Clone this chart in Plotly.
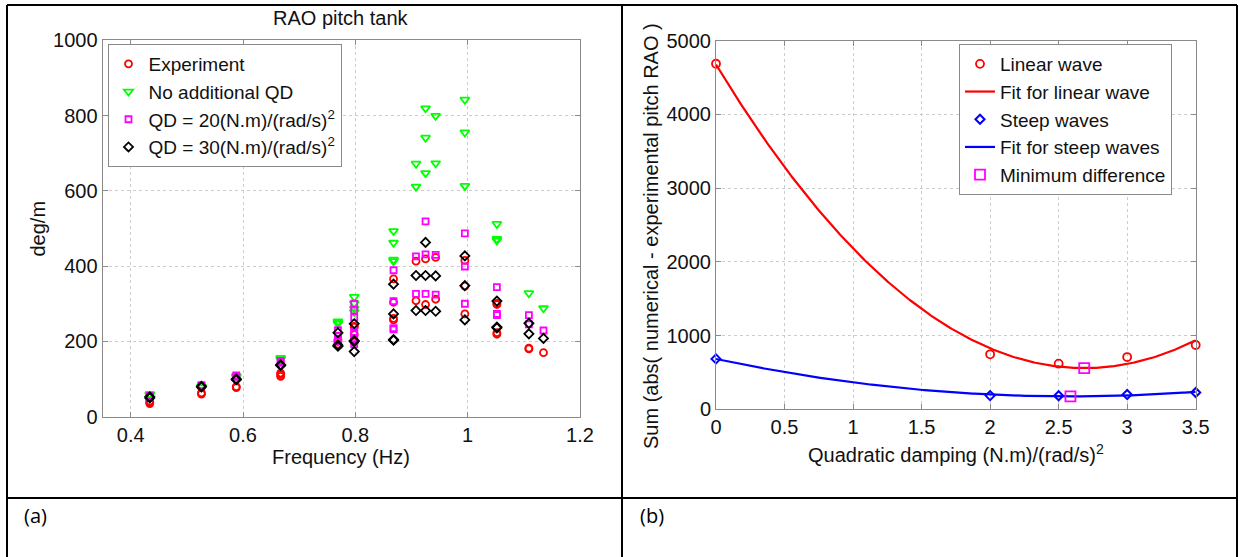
import numpy as np
import plotly.graph_objects as go

W, H = 1240, 557

# ---------------- (a) RAO pitch in the tank ----------------
freq_hz = [0.434, 0.526, 0.588, 0.667, 0.769, 0.798, 0.868,
           0.908, 0.925, 0.943, 0.995, 1.052, 1.109, 1.135]

rao_experiment = [
    [35, 38, 41], [60, 63], [77, 80], [107, 112, 116], [193, 200, 205],
    [198, 202, 218, 238, 240], [257, 261, 304, 366], [308, 413], [298, 419],
    [312, 423], [273, 347, 415], [219, 223, 298, 301], [180, 182], [170],
]
rao_no_qd = [
    [57, 60], [78, 80], [105, 108], [152, 156], [247, 250, 253],
    [278, 287, 301, 318], [413, 417, 462, 493], [611, 672], [647, 741, 819],
    [673, 799], [613, 755, 842], [468, 472, 512], [328], [288],
]
rao_qd20 = [
    [52, 56], [82, 84], [106, 110], [143, 148], [200, 207, 215, 230],
    [193, 205, 220, 225, 264, 282, 300], [232, 235, 307, 389], [326, 426],
    [326, 431, 519], [324, 430], [300, 399, 487], [270, 273, 344], [245, 270], [229],
]
rao_qd30 = [
    [50, 53], [79, 81], [98, 100], [136, 138], [187, 190, 223],
    [173, 200, 202, 247], [203, 205, 273, 352], [282, 375], [282, 375, 463],
    [280, 374], [257, 348, 427], [236, 238, 307], [220, 248], [208],
]

freq_ticks = [0.4, 0.6, 0.8, 1.0, 1.2]
freq_tick_text = ["0.4", "0.6", "0.8", "1", "1.2"]

# ---------------- (b) error sum vs quadratic damping ----------------
qd_values = [0, 2, 2.5, 3, 3.5]
err_linear = [4687, 746, 619, 709, 872]
err_steep = [684, 186, 184, 200, 228]

qd_ticks = [0, 0.5, 1, 1.5, 2, 2.5, 3, 3.5]
qd_tick_text = ["0", "0.5", "1", "1.5", "2", "2.5", "3", "3.5"]

FONT = "Liberation Sans, Arial, sans-serif"
TXT = "#111111"
FS = 20
LEG_FS = 19


def flatten(xs, groups):
    px, py = [], []
    for x, g in zip(xs, groups):
        for v in g:
            px.append(x)
            py.append(v)
    return px, py


def px_x(v):
    return v / W


def px_y(v):
    return 1 - v / H


fig = go.Figure()

series_a = [
    ("Experiment", rao_experiment, "circle-open", "#ff0000", 7),
    ("No additional QD", rao_no_qd, "triangle-down-open", "#00ff00", 8),
    ("QD = 20(N.m)/(rad/s)<sup>2</sup>", rao_qd20, "square-open", "#ff00ff", 6),
    ("QD = 30(N.m)/(rad/s)<sup>2</sup>", rao_qd30, "diamond-open", "#000000", 7),
]
for name, groups, sym, col, size in series_a:
    x, y = flatten(freq_hz, groups)
    fig.add_trace(go.Scatter(
        x=x, y=y, mode="markers", name=name, legend="legend",
        xaxis="x", yaxis="y", cliponaxis=False,
        marker=dict(symbol=sym, size=size, color=col, line=dict(width=1.8, color=col)),
    ))

# quadratic fits and their minima
x_fit = np.linspace(0, 3.5, 300)
c_lin = np.polyfit(qd_values, err_linear, 2)
c_stp = np.polyfit(qd_values, err_steep, 2)
xmin_lin = -c_lin[1] / (2 * c_lin[0])
xmin_stp = -c_stp[1] / (2 * c_stp[0])

fig.add_trace(go.Scatter(
    x=qd_values, y=err_linear, mode="markers", name="Linear wave", legend="legend2",
    xaxis="x2", yaxis="y2", cliponaxis=False,
    marker=dict(symbol="circle-open", size=8, color="#ff0000", line=dict(width=1.8, color="#ff0000")),
))
fig.add_trace(go.Scatter(
    x=x_fit, y=np.polyval(c_lin, x_fit), mode="lines", name="Fit for linear wave",
    legend="legend2", xaxis="x2", yaxis="y2", cliponaxis=False,
    line=dict(color="#ff0000", width=2.2),
))
fig.add_trace(go.Scatter(
    x=qd_values, y=err_steep, mode="markers", name="Steep waves", legend="legend2",
    xaxis="x2", yaxis="y2", cliponaxis=False,
    marker=dict(symbol="diamond-open", size=7, color="#0000ff", line=dict(width=2, color="#0000ff")),
))
fig.add_trace(go.Scatter(
    x=x_fit, y=np.polyval(c_stp, x_fit), mode="lines", name="Fit for steep waves",
    legend="legend2", xaxis="x2", yaxis="y2", cliponaxis=False,
    line=dict(color="#0000ff", width=2.2),
))
fig.add_trace(go.Scatter(
    x=[xmin_lin, xmin_stp],
    y=[np.polyval(c_lin, xmin_lin), np.polyval(c_stp, xmin_stp)],
    mode="markers", name="Minimum difference", legend="legend2",
    xaxis="x2", yaxis="y2", cliponaxis=False,
    marker=dict(symbol="square-open", size=10, color="#ff00ff", line=dict(width=1.8, color="#ff00ff")),
))

axis_common = dict(
    showgrid=True, gridcolor="#cccccc", griddash="dot", gridwidth=1,
    showline=True, linecolor="#8a8a8a", linewidth=1, mirror="ticks",
    ticks="inside", ticklen=5, tickcolor="#8a8a8a",
    zeroline=False, automargin=False,
    tickfont=dict(family=FONT, size=FS, color=TXT),
)

fig.update_layout(
    width=W, height=H,
    margin=dict(l=0, r=0, t=0, b=0),
    paper_bgcolor="white", plot_bgcolor="white",
    showlegend=True,
    xaxis=dict(axis_common, domain=[px_x(102.6), px_x(580)], range=[0.35, 1.2],
               tickvals=freq_ticks, ticktext=freq_tick_text, anchor="y"),
    yaxis=dict(axis_common, domain=[px_y(416.7), px_y(40.2)], range=[0, 1000],
               tickvals=[0, 200, 400, 600, 800, 1000], anchor="x"),
    xaxis2=dict(axis_common, domain=[px_x(716), px_x(1195.7)], range=[0, 3.5],
                tickvals=qd_ticks, ticktext=qd_tick_text, anchor="y2"),
    yaxis2=dict(axis_common, domain=[px_y(409.3), px_y(40.7)], range=[0, 5000],
                tickvals=[0, 1000, 2000, 3000, 4000, 5000], anchor="x2"),
    legend=dict(
        x=px_x(107.5), y=px_y(44), xanchor="left", yanchor="top",
        bgcolor="white", bordercolor="#8a8a8a", borderwidth=1,
        font=dict(family=FONT, size=LEG_FS, color=TXT), tracegroupgap=0,
    ),
    legend2=dict(
        x=px_x(959), y=px_y(44), xanchor="left", yanchor="top",
        bgcolor="white", bordercolor="#8a8a8a", borderwidth=1,
        font=dict(family=FONT, size=LEG_FS, color=TXT), tracegroupgap=0,
    ),
)

annotations = [
    dict(text="RAO pitch tank", x=px_x(341), y=px_y(18)),
    dict(text="Frequency (Hz)", x=px_x(341), y=px_y(457)),
    dict(text="deg/m", x=px_x(37.5), y=px_y(229), textangle=-90),
    dict(text="Quadratic damping (N.m)/(rad/s)<sup>2</sup>", x=px_x(956), y=px_y(453)),
    dict(text="Sum (abs( numerical - experimental pitch RAO )", x=px_x(651), y=px_y(236),
         textangle=-90),
]
for a in annotations:
    fig.add_annotation(xref="paper", yref="paper", xanchor="center", yanchor="middle",
                       showarrow=False, font=dict(family=FONT, size=FS, color=TXT), **a)

for label, x in (("(a)", 22), ("(b)", 638)):
    fig.add_annotation(xref="paper", yref="paper", x=px_x(x), y=px_y(515),
                       xanchor="left", yanchor="middle", showarrow=False, text=label,
                       font=dict(family="Open Sans, sans-serif", size=20, color="#000"))

# table frame around the two panels
frame = [
    (7, 5, 1237, 5), (7, 498, 1237, 498),
    (7, 5, 7, 557), (622, 5, 622, 557), (1237, 5, 1237, 557),
]
for x0, y0, x1, y1 in frame:
    fig.add_shape(type="line", xref="paper", yref="paper",
                  x0=px_x(x0), y0=px_y(y0), x1=px_x(x1), y1=px_y(y1),
                  line=dict(color="black", width=2))

fig.write_html("out.html", config={"displayModeBar": False})
